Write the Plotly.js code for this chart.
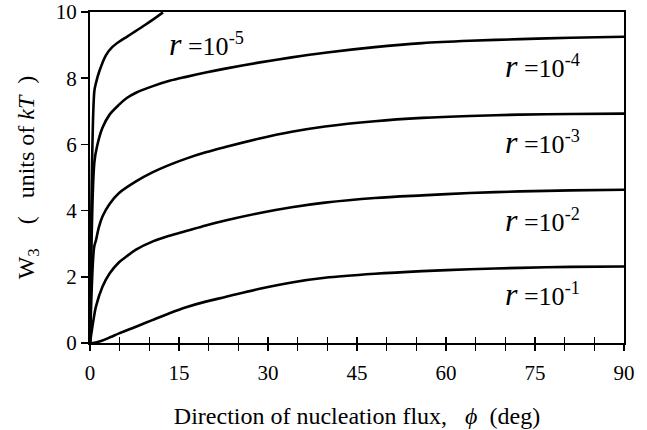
<!DOCTYPE html>
<html>
<head>
<meta charset="utf-8">
<script src="https://cdn.plot.ly/plotly-3.0.1.min.js"></script>
<style>html,body{margin:0;padding:0;background:#fff;}#chart{width:647px;height:430px;}</style>
</head>
<body>
<div id="chart"></div>
<script>
// Data
const phiR5 = [0, 0.73, 1.0, 1.57, 2.7, 3.7, 4.9, 6.2, 7.75, 9.2, 10.6, 12.3];
const wR5   = [0, 7.6, 7.85, 8.21, 8.7, 8.93, 9.1, 9.25, 9.43, 9.6, 9.77, 9.99];

const phiR4 = [0, 0.73, 1.2, 2.1, 3.3, 4.9, 6.2, 7.75, 10.6, 13.4, 16.2, 19.5, 22.8, 28.4, 34, 39.6, 48, 56, 64, 72.5, 81, 90];
const wR4   = [0, 5.45, 5.95, 6.5, 6.9, 7.2, 7.4, 7.56, 7.76, 7.92, 8.04, 8.17, 8.29, 8.47, 8.63, 8.77, 8.94, 9.06, 9.13, 9.18, 9.22, 9.25];

const phiR3 = [0, 0.7, 1.0, 1.5, 2.1, 3.3, 4.9, 7.75, 10.6, 13.4, 16.2, 19.5, 22.8, 28.4, 34, 39.6, 48, 56, 64, 72.5, 81, 90];
const wR3   = [0, 2.9, 3.1, 3.5, 3.82, 4.2, 4.53, 4.88, 5.16, 5.38, 5.57, 5.76, 5.92, 6.17, 6.38, 6.54, 6.7, 6.8, 6.86, 6.9, 6.92, 6.93];

const phiR2 = [0, 0.5, 1.0, 2.1, 3.3, 4.9, 6.2, 7.75, 10.6, 13.4, 16.2, 19.5, 22.8, 28.4, 34, 39.6, 48, 56, 64, 72.5, 81, 90];
const wR2   = [0, 0.6, 1.1, 1.7, 2.1, 2.44, 2.62, 2.82, 3.07, 3.24, 3.38, 3.55, 3.7, 3.92, 4.1, 4.24, 4.38, 4.46, 4.53, 4.58, 4.61, 4.63];

const phiR1 = [0, 0.5, 2, 3.5, 4.9, 7.75, 10.6, 13.4, 16.2, 19.5, 22.8, 28.4, 34, 39.6, 48, 56, 64, 72.5, 81, 90];
const wR1   = [0, 0, 0.07, 0.18, 0.29, 0.49, 0.7, 0.9, 1.08, 1.25, 1.39, 1.63, 1.83, 1.97, 2.09, 2.17, 2.23, 2.27, 2.3, 2.31];

const labelExp = ['-5', '-4', '-3', '-2', '-1'];
const labelPhi = [19.7, 76.2, 76.2, 76.2, 76.2];
const labelW   = [9.02, 8.36, 6.06, 3.72, 1.48];

const xTickStep = 15;
const yTickStep = 2;

const FONT = 'Liberation Serif, Times New Roman, serif';
const NB = '\u00A0';
const lineStyle = {color: '#000', width: 2.6, shape: 'spline', smoothing: 0.9};

const series = [[phiR5, wR5], [phiR4, wR4], [phiR3, wR3], [phiR2, wR2], [phiR1, wR1]];
const traces = series.map(s => ({
  x: s[0], y: s[1], type: 'scatter', mode: 'lines', line: lineStyle,
  hoverinfo: 'skip', showlegend: false, cliponaxis: true
}));
// empty trace so the overlay axis (inside half of the crossing ticks) is drawn
traces.push({x: [], y: [], xaxis: 'x2', yaxis: 'y', type: 'scatter', mode: 'lines', showlegend: false});

const annotations = labelExp.map((e, i) => ({
  x: labelPhi[i], y: labelW[i], xref: 'x', yref: 'y',
  text: '<span style="font-size:32px"><i>r</i></span>' + NB + '=10<sup>' + e + '</sup>',
  showarrow: false, xanchor: 'center', yanchor: 'middle',
  font: {family: FONT, size: 26, color: '#000'}
}));

const layout = {
  width: 647, height: 430,
  margin: {l: 90, r: 23, t: 12, b: 87, pad: 0},
  paper_bgcolor: '#fff', plot_bgcolor: '#fff',
  font: {family: FONT, color: '#000', size: 21},
  showlegend: false,
  xaxis: {
    range: [0, 90], tick0: 0, dtick: xTickStep,
    ticks: 'outside', ticklen: 6, tickwidth: 1.5, tickcolor: '#000',
    minor: {dtick: 5, tick0: 0, ticks: 'outside', ticklen: 6, tickwidth: 1.5, tickcolor: '#000', showgrid: false},
    showline: true, linewidth: 2, linecolor: '#000', mirror: true,
    showgrid: false, zeroline: false, ticklabelstandoff: 4,
    tickfont: {family: FONT, size: 21, color: '#000'},
    title: {text: 'Direction of nucleation flux,' + NB + NB + NB + '<i>ϕ</i>' + NB + NB + '(deg)', font: {family: FONT, size: 24, color: '#000'}, standoff: 23}
  },
  xaxis2: {
    overlaying: 'x', anchor: 'y', side: 'bottom', range: [0, 90],
    tick0: 0, dtick: 5, ticks: 'inside', ticklen: 6, tickwidth: 1.5, tickcolor: '#000',
    showticklabels: false, showline: false, showgrid: false, zeroline: false
  },
  yaxis: {
    range: [0, 10], tick0: 0, dtick: yTickStep,
    ticks: 'outside', ticklen: 7, tickwidth: 1.5, tickcolor: '#000',
    showline: true, linewidth: 2, linecolor: '#000', mirror: true,
    showgrid: false, zeroline: false,
    tickfont: {family: FONT, size: 21, color: '#000'},
    title: {text: 'W<sub>3</sub>' + NB + NB + NB + NB + '(' + NB + NB + NB + 'units of <i>kT</i>' + NB + NB + ')', font: {family: FONT, size: 24, color: '#000'}, standoff: 14}
  },
  annotations: annotations
};

Plotly.newPlot('chart', traces, layout, {displayModeBar: false, staticPlot: true});
</script>
</body>
</html>
